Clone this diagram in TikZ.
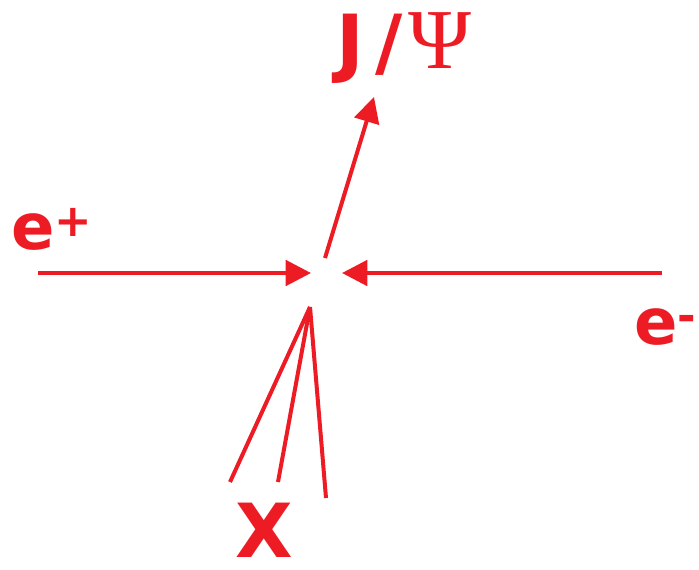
\documentclass[tikz,border=0pt]{standalone}
\usepackage{fontspec}
\newfontfamily\labelfont{DejaVu Sans}
\newfontfamily\psifont{Liberation Serif}
\usetikzlibrary{arrows.meta}
\definecolor{beamred}{RGB}{237, 28, 36}

\begin{document}
\begin{tikzpicture}[
  x=0.75pt, y=-0.75pt,
  beam/.style={draw=beamred, line width=3pt, -{Triangle[length=19pt, width=19pt]}},
  track/.style={draw=beamred, line width=3pt},
  plabel/.style={inner sep=0pt, text=beamred, font=\labelfont\bfseries\fontsize{56}{60}\selectfont},
  elabel/.style={plabel, font=\labelfont\bfseries\fontsize{48}{52}\selectfont}
]
  \useasboundingbox (0,0) rectangle (699,569);

  % labels
  \node[plabel, anchor=base west] (jpsi) at (336,68) {J\hspace{9pt}/\hspace{4pt}{\psifont\mdseries\fontsize{64}{68}\selectfont Ψ}};
  \node[elabel, anchor=base west] (eplus) at (11,249) {e\textsuperscript{+}};
  \node[elabel, anchor=base west] (eminus) at (634,344) {e\textsuperscript{-}};
  \node[plabel, anchor=base] (xlab) at (264,557) {X};

  % beams and tracks
  \coordinate (pstart) at (38,273);
  \coordinate (ptip) at (311,273);
  \coordinate (mstart) at (662,273);
  \coordinate (mtip) at (342,273);
  \coordinate (jstart) at (325,258);
  \coordinate (jtip) at (374,97);
  \coordinate (apex) at (310,307);
  \coordinate (xa) at (230,482);
  \coordinate (xb) at (278,482);
  \coordinate (xc) at (326,498);

  \draw[beam] (pstart) -- (ptip);
  \draw[beam] (mstart) -- (mtip);
  \draw[beam] (jstart) -- (jtip);
  \draw[track] (apex) -- (xa);
  \draw[track] (apex) -- (xb);
  \draw[track] (apex) -- (xc);
\end{tikzpicture}
\end{document}
